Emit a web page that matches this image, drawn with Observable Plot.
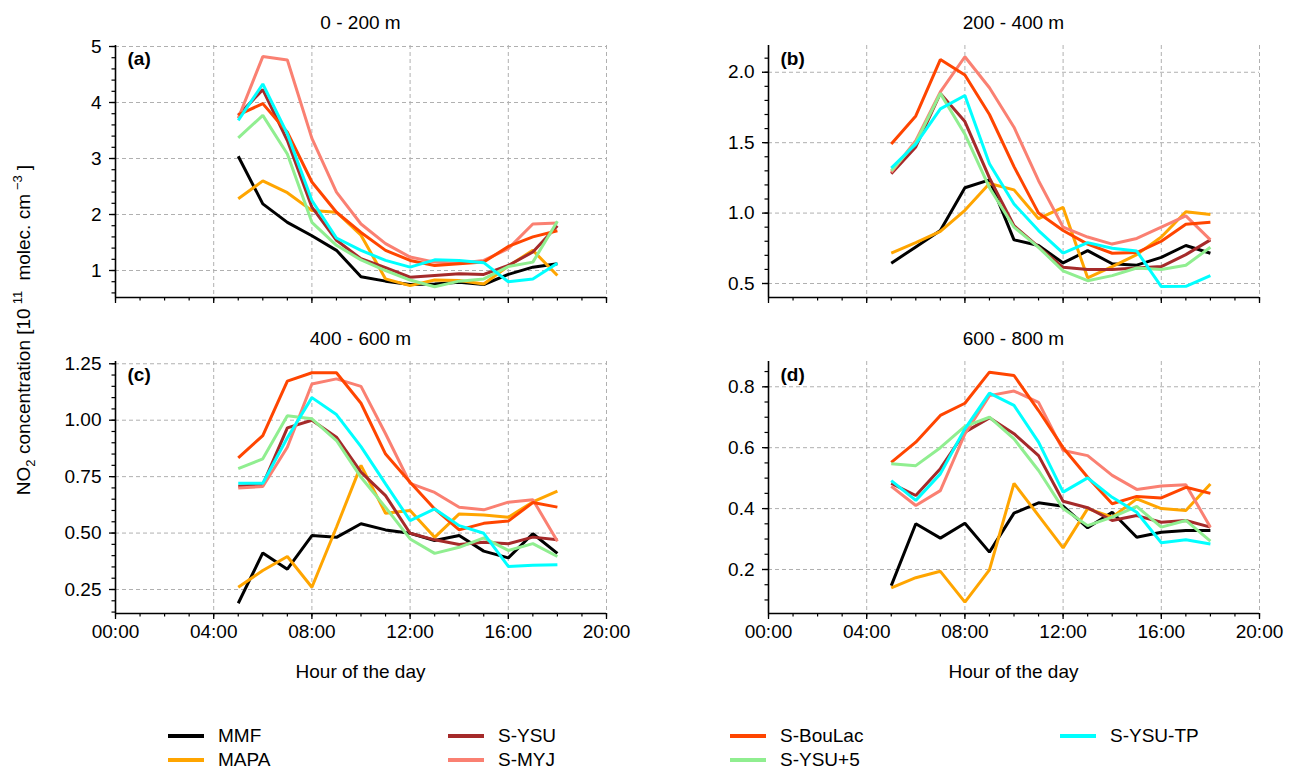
<!DOCTYPE html>
<html><head><meta charset="utf-8">
<script src="https://cdn.jsdelivr.net/npm/d3@7"></script>
<script src="https://cdn.jsdelivr.net/npm/@observablehq/plot@0.6"></script>
<style>
body{margin:0;background:#fff;font-family:"Liberation Sans",Arial,sans-serif;color:#000;}
#root{position:relative;width:1290px;height:771px;overflow:hidden;background:#fff;}
.abs{position:absolute;white-space:nowrap;line-height:1;}
.ctr{transform:translateX(-50%);}
.t{font-size:19px;}
.sw{position:absolute;height:4px;}
.ss{font-size:13px;}
sup.ss{margin:0 5px 0 4px;}
</style></head><body><div id="root"></div>
<script>
// ---------- data ----------
const hours = [5,6,7,8,9,10,11,12,13,14,15,16,17,18];
const models = ["MMF","MAPA","S-YSU","S-MYJ","S-BouLac","S-YSU+5","S-YSU-TP"];
const colors = ["#000000","#FFA500","#A52A2A","#FA8072","#FF4500","#90EE90","#00FFFF"];
const panelTitles = ["0 - 200 m","200 - 400 m","400 - 600 m","600 - 800 m"];
const panelTags = ["(a)","(b)","(c)","(d)"];
const xTicks = [0,4,8,12,16,20];
const xTickLabels = ["00:00","04:00","08:00","12:00","16:00","20:00"];

// panel (a) 0-200 m
const a_MMF     = [3.04,2.19,1.86,1.62,1.36,0.89,0.81,0.75,0.76,0.79,0.75,0.93,1.06,1.12];
const a_MAPA    = [2.28,2.60,2.39,2.07,2.04,1.63,0.85,0.73,0.83,0.82,0.76,1.08,1.36,0.91];
const a_SYSU    = [3.77,4.23,3.32,2.13,1.54,1.21,1.05,0.88,0.91,0.94,0.93,1.09,1.33,1.80];
const a_SMYJ    = [3.72,4.82,4.76,3.36,2.40,1.83,1.48,1.24,1.15,1.13,1.18,1.39,1.83,1.85];
const a_SBouLac = [3.78,3.98,3.47,2.58,2.04,1.68,1.36,1.18,1.09,1.12,1.15,1.43,1.60,1.71];
const a_SYSU5   = [3.37,3.77,3.08,1.86,1.45,1.19,1.00,0.83,0.71,0.81,0.85,1.07,1.15,1.88];
const a_SYSUTP  = [3.68,4.33,3.44,2.25,1.58,1.36,1.18,1.06,1.19,1.18,1.14,0.80,0.85,1.13];
// panel (b) 200-400 m
const b_MMF     = [0.644,0.76,0.876,1.18,1.236,0.81,0.77,0.646,0.733,0.64,0.63,0.686,0.77,0.715];
const b_MAPA    = [0.715,0.79,0.87,1.02,1.21,1.165,0.96,1.04,0.54,0.62,0.705,0.83,1.01,0.99];
const b_SYSU    = [1.28,1.47,1.85,1.65,1.25,0.91,0.76,0.615,0.60,0.60,0.61,0.62,0.705,0.81];
const b_SMYJ    = [1.29,1.515,1.86,2.11,1.89,1.61,1.23,0.90,0.83,0.78,0.82,0.90,0.98,0.81];
const b_SBouLac = [1.49,1.69,2.09,1.98,1.70,1.33,1.00,0.876,0.78,0.715,0.72,0.80,0.92,0.935];
const b_SYSU5   = [1.30,1.50,1.85,1.56,1.18,0.90,0.757,0.59,0.52,0.556,0.61,0.60,0.63,0.757];
const b_SYSUTP  = [1.32,1.49,1.74,1.835,1.35,1.065,0.876,0.715,0.79,0.75,0.73,0.478,0.48,0.556];
// panel (c) 400-600 m
const c_MMF     = [0.189,0.412,0.34,0.489,0.481,0.541,0.514,0.499,0.467,0.489,0.42,0.39,0.497,0.41];
const c_MAPA    = [0.26,0.334,0.396,0.26,0.526,0.80,0.588,0.60,0.481,0.585,0.58,0.57,0.638,0.686];
const c_SYSU    = [0.707,0.715,0.966,1.0,0.925,0.77,0.666,0.499,0.47,0.449,0.459,0.453,0.482,0.47];
const c_SMYJ    = [0.70,0.706,0.88,1.16,1.183,1.15,0.94,0.72,0.68,0.614,0.603,0.637,0.648,0.464];
const c_SBouLac = [0.833,0.932,1.173,1.21,1.21,1.075,0.85,0.725,0.607,0.514,0.543,0.553,0.635,0.615];
const c_SYSU5   = [0.785,0.829,1.02,1.006,0.91,0.747,0.614,0.474,0.41,0.437,0.479,0.423,0.453,0.396];
const c_SYSUTP  = [0.721,0.721,0.922,1.10,1.025,0.883,0.718,0.555,0.607,0.533,0.499,0.352,0.357,0.36];
// panel (d) 600-800 m
const d_MMF     = [0.147,0.35,0.303,0.352,0.257,0.385,0.419,0.408,0.337,0.388,0.306,0.322,0.328,0.328];
const d_MAPA    = [0.14,0.173,0.194,0.093,0.199,0.483,0.377,0.271,0.40,0.372,0.432,0.40,0.394,0.481];
const d_SYSU    = [0.483,0.443,0.531,0.651,0.698,0.646,0.574,0.424,0.403,0.361,0.377,0.355,0.361,0.339];
const d_SMYJ    = [0.473,0.41,0.459,0.645,0.771,0.786,0.749,0.591,0.574,0.509,0.463,0.474,0.478,0.339];
const d_SBouLac = [0.552,0.618,0.706,0.746,0.848,0.837,0.722,0.60,0.503,0.416,0.44,0.435,0.47,0.45];
const d_SYSU5   = [0.547,0.541,0.60,0.67,0.70,0.629,0.525,0.40,0.344,0.372,0.407,0.339,0.361,0.293];
const d_SYSUTP  = [0.492,0.427,0.514,0.662,0.779,0.739,0.618,0.454,0.501,0.437,0.388,0.288,0.298,0.284];

// y-axis settings per panel
const yDomains = [[0.518,5.018],[0.4006,2.19],[0.1437,1.26],[0.0555,0.883]];
const yTicksMajor = [[1,2,3,4,5],[0.5,1.0,1.5,2.0],[0.25,0.5,0.75,1.0,1.25],[0.2,0.4,0.6,0.8]];
const yMinorStep = [0.2,0.1,0.05,0.05];
const yFormats = ["d",".1f",".2f",".1f"];

// ---------- build ----------
const panelSeries = [
  [a_MMF,a_MAPA,a_SYSU,a_SMYJ,a_SBouLac,a_SYSU5,a_SYSUTP],
  [b_MMF,b_MAPA,b_SYSU,b_SMYJ,b_SBouLac,b_SYSU5,b_SYSUTP],
  [c_MMF,c_MAPA,c_SYSU,c_SMYJ,c_SBouLac,c_SYSU5,c_SYSUTP],
  [d_MMF,d_MAPA,d_SYSU,d_SMYJ,d_SBouLac,d_SYSU5,d_SYSUTP]
];
const root = document.getElementById("root");
const frameLeft = [115,768,115,768];
const frameTop = [45,45,361,361];
const frameW = 491, frameH = 252;
const ML = 115, MT = 45, SVGW = 640, SVGH = 330;

function minorTicks(dom, step){
  const out=[]; const s = Math.ceil(dom[0]/step - 1e-9);
  for(let k=s; k*step <= dom[1]+1e-9; k++) out.push(+(k*step).toFixed(4));
  return out;
}

panelSeries.forEach((series, p) => {
  const rows = [];
  series.forEach((vals, m) => vals.forEach((v, i) => rows.push({h: hours[i], v, model: models[m]})));
  const dom = yDomains[p];
  const showX = p >= 2;
  const fmtY = d3.format(yFormats[p]);
  const marks = [
    Plot.gridX(xTicks.slice(1), {stroke:"#b0b0b0", strokeOpacity:1, strokeDasharray:"4,3", strokeWidth:1}),
    Plot.gridY(yTicksMajor[p], {stroke:"#b0b0b0", strokeOpacity:1, strokeDasharray:"4,3", strokeWidth:1}),
    Plot.axisX(d3.range(0,21), {tickSize:3.5, tickFormat:()=>"", label:null, strokeWidth:1.2}),
    Plot.axisX(xTicks, {tickSize:6, tickPadding:5, strokeWidth:1.3, label:null,
      tickFormat: showX ? (d => xTickLabels[xTicks.indexOf(d)]) : (()=>"")}),
    Plot.axisY(minorTicks(dom, yMinorStep[p]), {tickSize:3.5, tickFormat:()=>"", label:null, strokeWidth:1.2}),
    Plot.axisY(yTicksMajor[p], {tickSize:6, tickPadding:8, strokeWidth:1.3, label:null, tickFormat: fmtY}),
    Plot.ruleX([0], {stroke:"#000", strokeWidth:1.6}),
    Plot.ruleY([dom[0]], {stroke:"#000", strokeWidth:1.6}),
    ...models.map(m => Plot.line(rows.filter(r => r.model === m),
      {x:"h", y:"v", stroke:"model", strokeWidth:3, strokeLinejoin:"miter", strokeLinecap:"butt"})),
    Plot.text([panelTags[p]], {frameAnchor:"top-left", dx:12, dy:6, fontWeight:"bold", fontSize:19, text:d=>d})
  ];
  const svg = Plot.plot({
    width: SVGW, height: SVGH,
    marginLeft: ML, marginTop: MT, marginRight: SVGW - ML - frameW, marginBottom: SVGH - MT - frameH,
    x: {domain:[0,20], label:null},
    y: {domain: dom, label:null},
    color: {domain: models, range: colors},
    style: {fontFamily:"'Liberation Sans', Arial, sans-serif", fontSize:"19px", background:"transparent", overflow:"visible", color:"#000"},
    marks
  });
  svg.style.position = "absolute";
  svg.style.left = (frameLeft[p] - ML) + "px";
  svg.style.top = (frameTop[p] - MT) + "px";
  root.appendChild(svg);

  const t = document.createElement("div");
  t.className = "abs ctr t";
  t.style.left = (frameLeft[p] + frameW/2) + "px";
  t.style.top = (frameTop[p] - 32) + "px";
  t.textContent = panelTitles[p];
  root.appendChild(t);

  if (showX) {
    const xl = document.createElement("div");
    xl.className = "abs ctr t";
    xl.style.left = (frameLeft[p] + frameW/2) + "px";
    xl.style.top = (frameTop[p] + frameH + 49) + "px";
    xl.textContent = "Hour of the day";
    root.appendChild(xl);
  }
});

// y label
const yl = document.createElement("div");
yl.className = "abs t";
yl.style.left = "24px"; yl.style.top = "330px";
yl.style.transform = "translate(-50%,-50%) rotate(-90deg)";
yl.innerHTML = "NO<sub class='ss'>2</sub> concentration [10<sup class='ss'>11</sup> molec. cm<sup class='ss'>−3</sup>]";
root.appendChild(yl);

// legend
const legCols = [218, 498, 780, 1110];
const legRows = [736, 760];
models.forEach((m, i) => {
  const col = Math.floor(i/2), row = i%2;
  const sw = document.createElement("div");
  sw.className = "sw";
  sw.style.left = (legCols[col] - 50) + "px";
  sw.style.width = "36px";
  sw.style.top = (legRows[row] - 2) + "px";
  sw.style.background = colors[i];
  root.appendChild(sw);
  const tx = document.createElement("div");
  tx.className = "abs t";
  tx.style.left = legCols[col] + "px";
  tx.style.top = (legRows[row] - 10) + "px";
  tx.textContent = m;
  root.appendChild(tx);
});
</script></body></html>
